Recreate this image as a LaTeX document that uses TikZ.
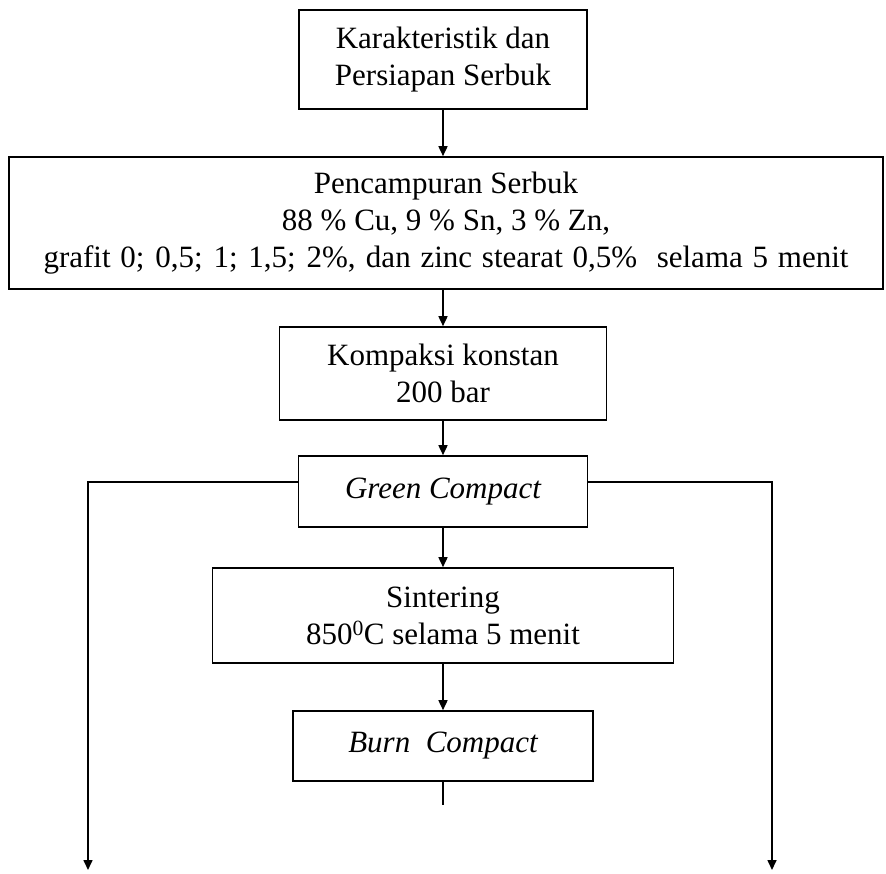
\documentclass[tikz,border=0pt]{standalone}
\usepackage{fontspec}
\setmainfont{Liberation Serif}
\usetikzlibrary{arrows.meta}
\begin{document}
\begin{tikzpicture}[x=1pt,y=-1pt,
  box/.style={draw,line width=1.6pt,rectangle,align=center,inner sep=0pt,
    font=\fontsize{31}{37}\selectfont},
  arr/.style={line width=1.6pt,-{Triangle[length=10pt,width=9pt]}},
  ln/.style={line width=1.6pt}]
\useasboundingbox (0,0) rectangle (886,874);
\node[box,minimum width=288,minimum height=99] (k) at (443,59.5)
  {Karakteristik dan\\Persiapan Serbuk};
\node[box,minimum width=874,minimum height=132] (p) at (446,223)
  {Pencampuran Serbuk\\88 \% Cu, 9 \% Sn, 3 \% Zn,\\\makebox[805pt][s]{grafit 0; 0,5; 1; 1,5; 2\%, dan zinc stearat 0,5\%\ \ selama 5 menit}};
\node[box,minimum width=327,minimum height=93] (c) at (443,373.5)
  {Kompaksi konstan\\200 bar};
\node[box,minimum width=289,minimum height=71] (g) at (443,491.5)
  {\itshape Green Compact};
\node[box,minimum width=461,minimum height=95] (s) at (443,615.5)
  {Sintering\\850\textsuperscript{0}C selama 5 menit};
\node[box,minimum width=300,minimum height=70] (b) at (443,746)
  {\itshape Burn~~Compact};
\coordinate (lend) at (88,870);
\coordinate (rend) at (772,870);
\coordinate (bend) at (443,805);
\draw[arr] (k) -- (k |- p.north);
\draw[arr] (p.south -| c) -- (c);
\draw[arr] (c) -- (g);
\draw[arr] (g) -- (s);
\draw[arr] (s) -- (b);
\draw[ln] (b) -- (bend);
\draw[arr] ([yshift=9.5pt]g.west) -| (lend);
\draw[arr] ([yshift=9.5pt]g.east) -| (rend);
\end{tikzpicture}
\end{document}
